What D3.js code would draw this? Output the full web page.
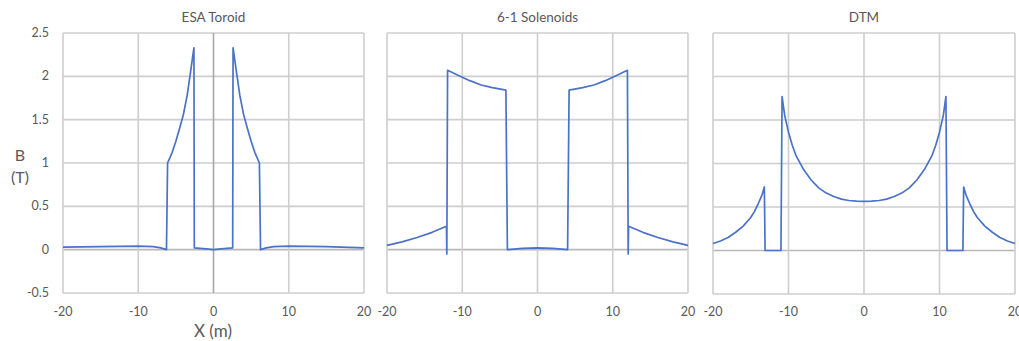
<!DOCTYPE html>
<html>
<head>
<meta charset="utf-8">
<script src="https://cdn.jsdelivr.net/npm/d3@7"></script>
<style>
  body { margin: 0; background: #fff; }
  text { font-family: Lato, "Open Sans", sans-serif; fill: #595959; }
</style>
</head>
<body>
<svg id="chart" width="1019" height="341"></svg>
<script>
// valeurs : x en m, B en T
const xTicks = [-20, -10, 0, 10, 20]
const yTicks = [-0.5, 0, 0.5, 1, 1.5, 2, 2.5]
const titles = ["ESA Toroid", "6-1 Solenoids", "DTM"]

const esaX = [-20, -15, -10, -8, -7, -6.25, -6.1, -5.5, -5, -4.5, -4, -3.5, -3, -2.6, -2.55, -1, 0,
              1, 2.55, 2.6, 3, 3.5, 4, 4.5, 5, 5.5, 6.1, 6.25, 7, 8, 10, 15, 20]
const esaB = [0.03, 0.035, 0.04, 0.035, 0.02, 0.0, 1.0, 1.12, 1.25, 1.40, 1.56, 1.78, 2.08, 2.33, 0.02, 0.01, 0.0,
              0.01, 0.02, 2.33, 2.08, 1.78, 1.56, 1.40, 1.25, 1.12, 1.0, 0.0, 0.02, 0.035, 0.04, 0.035, 0.02]

const solX = [-20, -18, -16, -14, -12.1, -12.05, -11.95, -10.5, -9, -7.5, -6, -4.2, -4.0, -2, 0, 2, 4.0,
              4.2, 6, 7.5, 9, 10.5, 11.95, 12.05, 12.1, 14, 16, 18, 20]
const solB = [0.05, 0.09, 0.14, 0.2, 0.27, -0.05, 2.07, 2.01, 1.95, 1.90, 1.87, 1.84, 0.0, 0.015, 0.02, 0.015, 0.0,
              1.84, 1.87, 1.90, 1.95, 2.01, 2.07, -0.05, 0.27, 0.2, 0.14, 0.09, 0.05]

const dtmX = [-20, -19, -18, -17, -16, -15, -14.5, -14, -13.5, -13.2, -13.1, -11.0, -10.85, -10.5, -10, -9.5, -9, -8, -7, -6, -5, -4, -3, -2, -1, 0,
              1, 2, 3, 4, 5, 6, 7, 8, 9, 9.5, 10, 10.5, 10.85, 11.0, 13.1, 13.2, 13.5, 14, 14.5, 15, 16, 17, 18, 19, 20]
const dtmB = [0.08, 0.11, 0.15, 0.21, 0.28, 0.38, 0.45, 0.54, 0.64, 0.73, 0.0, 0.0, 1.77, 1.55, 1.36, 1.21, 1.09, 0.93, 0.81, 0.72, 0.66, 0.62, 0.59, 0.575, 0.568, 0.565,
              0.568, 0.575, 0.59, 0.62, 0.66, 0.72, 0.81, 0.93, 1.09, 1.21, 1.36, 1.55, 1.77, 0.0, 0.0, 0.73, 0.64, 0.54, 0.45, 0.38, 0.28, 0.21, 0.15, 0.11, 0.08]

const panels = [
  {x: esaX, b: esaB, left: 63, right: 364, top: 33, bottom: 293, yLabels: true},
  {x: solX, b: solB, left: 387, right: 688, top: 33, bottom: 293, yLabels: false},
  {x: dtmX, b: dtmB, left: 713, right: 1015, top: 33, bottom: 294, yLabels: false}
]

const svg = d3.select("#chart")
const grid = "#cecece", lineCol = "#4a72c8"

panels.forEach(function(p, i) {
  const x = d3.scaleLinear().domain([-20, 20]).range([p.left, p.right])
  const y = d3.scaleLinear().domain([-0.5, 2.5]).range([p.bottom, p.top])
  const g = svg.append("g")

  // grille
  g.selectAll("line.h").data(yTicks).enter().append("line")
    .attr("x1", p.left).attr("x2", p.right)
    .attr("y1", d => y(d)).attr("y2", d => y(d))
    .attr("stroke", d => d == 0 ? "#b8b8b8" : grid).attr("stroke-width", 1.6)
  g.selectAll("line.v").data(xTicks).enter().append("line")
    .attr("y1", p.top).attr("y2", p.bottom)
    .attr("x1", d => x(d)).attr("x2", d => x(d))
    .attr("stroke", d => (d == 0 && i == 0) ? "#a8a8a8" : grid).attr("stroke-width", 1.6)

  // ticks x
  g.selectAll("text.xt").data(xTicks).enter().append("text")
    .attr("x", d => x(d)).attr("y", 316)
    .attr("text-anchor", "middle").attr("font-size", 12.5)
    .text(d => d)
  if (p.yLabels) {
    g.selectAll("text.yt").data(yTicks).enter().append("text")
      .attr("x", 49).attr("y", d => y(d) + 4)
      .attr("text-anchor", "end").attr("font-size", 12.5)
      .text(d => d)
  }

  g.append("text").attr("x", (p.left + p.right) / 2).attr("y", 22)
    .attr("text-anchor", "middle").attr("font-size", 13.5).text(titles[i])

  const line = d3.line().x((d, k) => x(p.x[k])).y(d => y(d))
  g.append("path").datum(p.b)
    .attr("d", line)
    .attr("fill", "none").attr("stroke", lineCol)
    .attr("stroke-width", 1.7).attr("stroke-linejoin", "round")
})

svg.append("text").attr("x", 213).attr("y", 337).attr("text-anchor", "middle")
  .attr("font-size", 17).text("X (m)")
svg.append("text").attr("x", 20).attr("y", 161).attr("text-anchor", "middle")
  .attr("font-size", 16).text("B")
svg.append("text").attr("x", 20).attr("y", 183).attr("text-anchor", "middle")
  .attr("font-size", 16).text("(T)")
</script>
</body>
</html>
